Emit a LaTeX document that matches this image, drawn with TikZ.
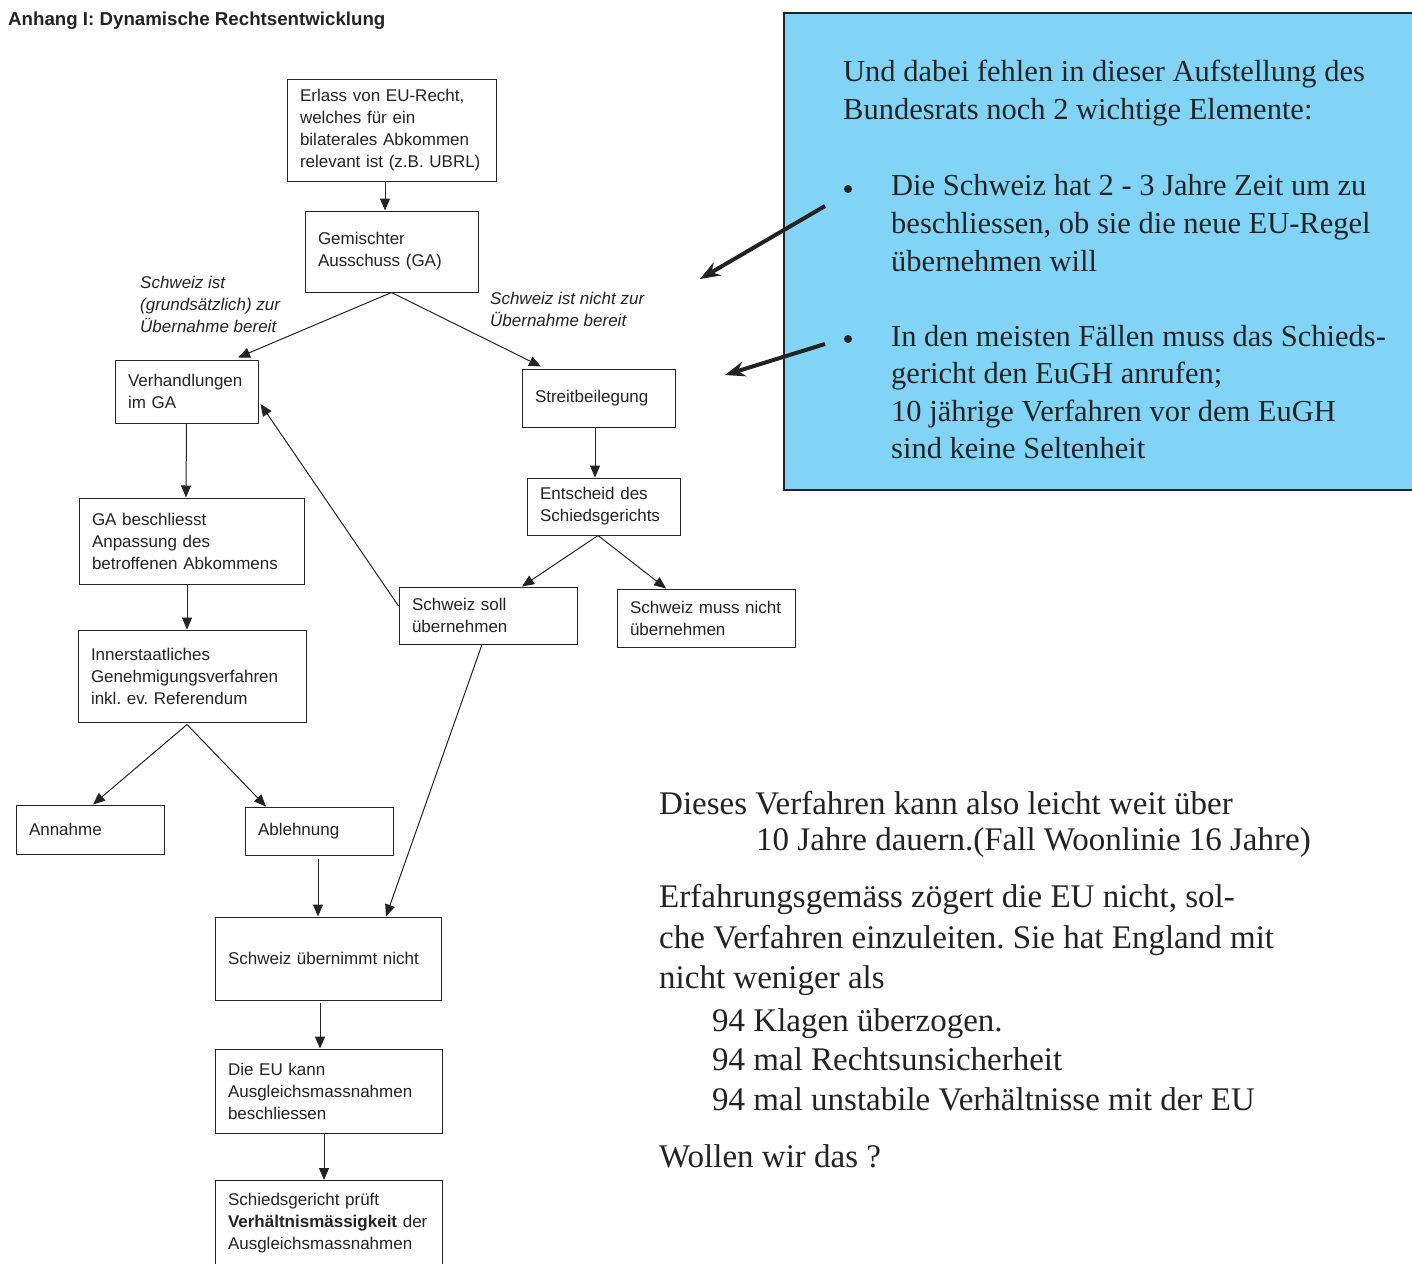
\documentclass[tikz,border=0pt]{standalone}
\usepackage{fontspec}
\setmainfont{Liberation Serif}
\setsansfont{Liberation Sans}
\newfontfamily\boxfont{Liberation Sans}
\usetikzlibrary{arrows.meta}
\definecolor{skyb}{RGB}{130,212,247}
\definecolor{ink}{RGB}{35,35,35}
\frenchspacing
\tikzset{
  box/.style={draw=ink, line width=1pt, inner xsep=13pt, inner ysep=2pt, align=left,
    text=ink, font=\boxfont\fontsize{17}{22}\selectfont, anchor=center},
  lab/.style={align=left, text=ink, font=\boxfont\itshape\fontsize{17}{22}\selectfont, anchor=west, inner sep=0pt},
  arr/.style={-{Triangle[length=12pt,width=10pt]}, line width=1pt, draw=ink},
  bigarr/.style={-{Stealth[length=20pt,width=15pt]}, line width=4pt, draw=ink},
  bluetext/.style={align=left, text=ink, font=\fontsize{30.5}{38}\selectfont, anchor=west, inner sep=0pt},
  bottext/.style={align=left, text=ink, font=\fontsize{33}{40}\selectfont, anchor=west, inner sep=0pt},
  bulletdot/.style={circle, fill=ink, inner sep=0pt, minimum size=8pt}
}
\begin{document}
\frenchspacing
\begin{tikzpicture}[x=1pt,y=-1pt]
\useasboundingbox[fill=white] (0,0) rectangle (1412,1263);

% title
\node[anchor=west, inner sep=0pt, text=ink, font=\boxfont\bfseries\fontsize{18.7}{22}\selectfont] (title) at (8,21) {Anhang I: Dynamische Rechtsentwicklung};

% flowchart boxes
\node[box, text width=183pt, minimum height=102pt] (erlass) at (391.5,130) {Erlass von EU-Recht,\\welches für ein\\bilaterales Abkommen\\relevant ist (z.B. UBRL)};
\node[box, text width=147pt, minimum height=81pt] (ga) at (391.5,251.5) {Gemischter\\Ausschuss (GA)};
\node[box, text width=117pt, minimum height=63pt] (verh) at (186.5,391.5) {Verhandlungen\\im GA};
\node[box, text width=127pt, minimum height=58pt] (streit) at (598.5,398) {Streitbeilegung};
\node[box, text width=127pt, minimum height=57pt] (entsch) at (603.5,506.5) {Entscheid des\\Schiedsgerichts};
\node[box, text width=199pt, minimum height=86pt] (gabeschl) at (191.5,541) {GA beschliesst\\Anpassung des\\betroffenen Abkommens};
\node[box, text width=152pt, minimum height=57pt] (soll) at (488,615.5) {Schweiz soll\\übernehmen};
\node[box, text width=152pt, minimum height=58pt] (muss) at (706,618) {Schweiz muss nicht\\übernehmen};
\node[box, text width=202pt, minimum height=92pt] (inner) at (192,676) {Innerstaatliches\\Genehmigungsverfahren\\inkl. ev. Referendum};
\node[box, text width=122pt, minimum height=49pt] (annahme) at (90,829.5) {Annahme};
\node[box, text width=122pt, minimum height=48pt] (ablehn) at (319,831) {Ablehnung};
\node[box, text width=200pt, minimum height=83pt] (uebern) at (328,958.5) {Schweiz übernimmt nicht};
\node[box, text width=201pt, minimum height=84pt] (dieeu) at (328.5,1091) {Die EU kann\\Ausgleichsmassnahmen\\beschliessen};
\node[box, text width=201pt, minimum height=86pt] (schieds) at (328.5,1223.5) {Schiedsgericht prüft\\\textbf{Verhältnismässigkeit} der\\Ausgleichsmassnahmen};

% italic labels
\node[lab] (lab1) at (140,304) {Schweiz ist\\(grundsätzlich) zur\\Übernahme bereit};
\node[lab] (lab2) at (490,309) {Schweiz ist nicht zur\\Übernahme bereit};

% connectors
\draw[arr] ([xshift=-6.5pt]erlass.south) -- ([xshift=-6.5pt]ga.north);
\draw[arr] (ga.south) -- ([xshift=51.5pt,yshift=2pt]verh.north);
\draw[arr] (ga.south) -- ([xshift=-57.5pt,yshift=2pt]streit.north);
\draw[arr] (verh.south) -- ([xshift=-5.5pt]gabeschl.north);
\draw[arr] ([xshift=-3.5pt]streit.south) -- ([xshift=-8.5pt]entsch.north);
\draw[arr] ([xshift=-5.5pt]entsch.south) -- ([xshift=34pt]soll.north);
\draw[arr] ([xshift=-5.5pt]entsch.south) -- ([xshift=-40pt]muss.north);
\draw[arr] ([yshift=9.5pt]soll.west) -- ([xshift=2pt,yshift=-12.5pt]verh.east);
\draw[arr] ([xshift=-6pt]soll.south) -- ([xshift=58pt]uebern.north);
\draw[arr] ([xshift=-4.5pt]gabeschl.south) -- ([xshift=-5pt]inner.north);
\draw[arr] ([xshift=-5pt,yshift=-2pt]inner.south) -- ([xshift=3pt]annahme.north);
\draw[arr] ([xshift=-5pt,yshift=-2pt]inner.south) -- ([xshift=-53pt]ablehn.north);
\draw[arr] ([xshift=-1pt,yshift=-3pt]ablehn.south) -- ([xshift=-10pt]uebern.north);
\draw[arr] ([xshift=-8pt,yshift=-2pt]uebern.south) -- ([xshift=-8.5pt]dieeu.north);
\draw[arr] ([xshift=-4.5pt]dieeu.south) -- ([xshift=-4.5pt]schieds.north);

% blue box
\node[draw=ink, line width=2pt, fill=skyb, minimum width=634pt, minimum height=477pt, inner sep=0pt, anchor=north west] (blue) at (783,12) {};
\node[bluetext] (bt1) at (843,93) {Und dabei fehlen in dieser Aufstellung des\\Bundesrats noch 2 wichtige Elemente:};
\node[bulletdot] (bul1) at (848,189) {};
\node[bluetext] (bt2) at (891,223.5) {Die Schweiz hat 2 - 3 Jahre Zeit um zu\\beschliessen, ob sie die neue EU-Regel\\übernehmen will};
\node[bulletdot] (bul2) at (848,339) {};
\node[bluetext, font=\fontsize{30.5}{37.3}\selectfont] (bt3) at (891,392) {In den meisten Fällen muss das Schieds-\\gericht den EuGH anrufen;\\10 jährige Verfahren vor dem EuGH\\sind keine Seltenheit};

% thick arrows
\coordinate (a1s) at (825,206);
\coordinate (a1e) at (700,279);
\coordinate (a2s) at (825,344);
\coordinate (a2e) at (725,375);
\draw[bigarr] (a1s) -- (a1e);
\draw[bigarr] (a2s) -- (a2e);

% bottom text
\node[bottext] (t1) at (659,803) {Dieses Verfahren kann also leicht weit über};
\node[bottext] (t2) at (756,843) {10 Jahre dauern.(Fall Woonlinie 16 Jahre)};
\node[bottext, font=\fontsize{33}{40.5}\selectfont] (t3) at (659,940) {Erfahrungsgemäss zögert die EU nicht, sol-\\che Verfahren einzuleiten. Sie hat England mit\\nicht weniger als};
\node[bottext, font=\fontsize{33}{39.5}\selectfont] (t4) at (712,1059.5) {94 Klagen überzogen.\\94 mal Rechtsunsicherheit\\94 mal unstabile Verhältnisse mit der EU};
\node[bottext] (t5) at (659,1156) {Wollen wir das ?};
\end{tikzpicture}
\end{document}
